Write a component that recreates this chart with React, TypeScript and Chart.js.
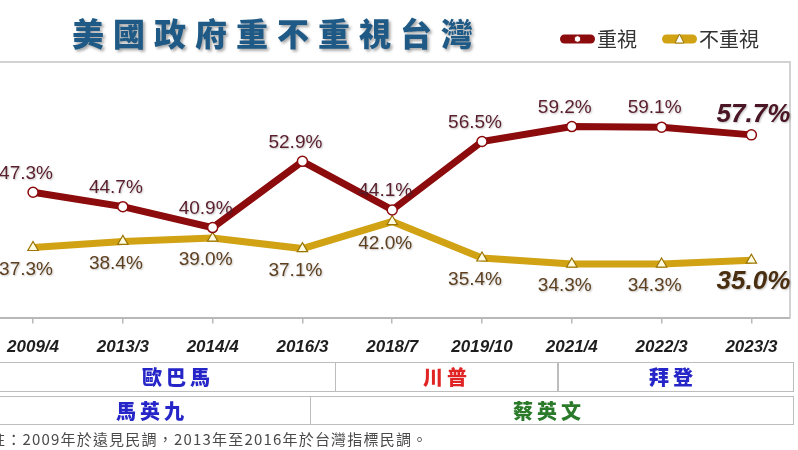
import React, { useEffect, useRef } from "react";
import { Chart, registerables } from "chart.js";

Chart.register(...registerables);

const periods = ["2009/4", "2013/3", "2014/4", "2016/3", "2018/7", "2019/10", "2021/4", "2022/3", "2023/3"];
const valuesCare = [47.3, 44.7, 40.9, 52.9, 44.1, 56.5, 59.2, 59.1, 57.7];
const valuesNotCare = [37.3, 38.4, 39.0, 37.1, 42.0, 35.4, 34.3, 34.3, 35.0];
const seriesNames = ["重視", "不重視"];
const titleText = "美國政府重不重視台灣";
const usPresidents = ["歐巴馬", "川普", "拜登"];
const twPresidents = ["馬英九", "蔡英文"];
const footnote = "註：2009年於遠見民調，2013年至2016年於台灣指標民調。";

const RED = "#8c0b0d";
const GOLD = "#d0a214";

const labelPlugin = {
  id: "valueLabels",
  afterDatasetsDraw(chart: any) {
    const ctx = chart.ctx;
    ctx.save();
    ctx.textAlign = "center";
    ctx.textBaseline = "middle";
    chart.data.datasets.forEach((ds: any, di: number) => {
      const meta = chart.getDatasetMeta(di);
      meta.data.forEach((pt: any, i: number) => {
        const last = i === meta.data.length - 1;
        const raw = ds.data[i];
        const num = typeof raw === "number" ? raw : raw.y;
        const v = Number(num).toFixed(1) + "%";
        const fam = '"Liberation Sans", Arial, sans-serif';
        if (last) {
          ctx.font = `italic bold 26px ${fam}`;
        } else {
          ctx.font = `19px ${fam}`;
        }
        const color = di === 0 ? (last ? "#4a1524" : "#5a1e2c") : (last ? "#4a2e10" : "#5e4020");
        const dy = di === 0 ? (last ? -20 : -19) : (last ? 22 : 22);
        const dx = last ? 2 : -7;
        ctx.shadowColor = "rgba(0,0,0,0.25)";
        ctx.shadowBlur = 2;
        ctx.shadowOffsetX = 1;
        ctx.shadowOffsetY = 1;
        ctx.fillStyle = color;
        ctx.fillText(v, pt.x + dx, pt.y + dy);
      });
    });
    ctx.restore();
  },
};

const framePlugin = {
  id: "frame",
  beforeDatasetsDraw(chart: any) {
    const { ctx, chartArea } = chart;
    ctx.save();
    ctx.strokeStyle = "#d2d2d2";
    ctx.lineWidth = 2;
    ctx.beginPath();
    ctx.moveTo(0, chartArea.top);
    ctx.lineTo(chartArea.right, chartArea.top);
    ctx.lineTo(chartArea.right, chartArea.bottom);
    ctx.stroke();
    ctx.restore();
  },
};

function LegendMark({ kind }: { kind: "circle" | "triangle" }) {
  const c = kind === "circle" ? RED : GOLD;
  return (
    <svg width="37" height="14" style={{ display: "block" }}>
      <rect x="1" y="2.5" width="35" height="9" rx="4.5" fill={c} />
      {kind === "circle" ? (
        <circle cx="18.5" cy="7" r="3.3" fill="#fff" stroke={c} strokeWidth="1" />
      ) : (
        <polygon points="18.5,2 23,11 14,11" fill="#fff" stroke="#9a7400" strokeWidth="1" />
      )}
    </svg>
  );
}

export default function App() {
  const ref = useRef<HTMLCanvasElement>(null);

  useEffect(() => {
    document.body.style.margin = "0";
    const chart = new Chart(ref.current as HTMLCanvasElement, {
      type: "line",
      data: {
        datasets: [
          {
            label: seriesNames[0],
            data: valuesCare.map((v, i) => ({ x: i, y: v })),
            borderColor: RED,
            borderWidth: 7,
            pointStyle: "circle",
            pointRadius: 5,
            pointBorderWidth: 1.5,
            pointBorderColor: RED,
            pointBackgroundColor: "#ffffff",
            tension: 0,
          },
          {
            label: seriesNames[1],
            data: valuesNotCare.map((v, i) => ({ x: i, y: v })),
            borderColor: GOLD,
            borderWidth: 7,
            pointStyle: "triangle",
            pointRadius: 6,
            pointBorderWidth: 1.2,
            pointBorderColor: "#9a7400",
            pointBackgroundColor: "#fffbe0",
            tension: 0,
          },
        ],
      },
      options: {
        animation: false,
        responsive: false,
        maintainAspectRatio: false,
        layout: { autoPadding: false, padding: { top: 62, left: 0, right: 8, bottom: 78 } },
        plugins: { legend: { display: false }, tooltip: { enabled: false } },
        scales: {
          x: {
            type: "linear",
            min: -0.368,
            max: 8.43,
            afterBuildTicks: (scale: any) => {
              scale.ticks = periods.map((_, i) => ({ value: i }));
            },
            afterFit: (scale: any) => {
              scale.paddingLeft = 0;
              scale.paddingRight = 0;
            },
            ticks: {
              autoSkip: false,
              maxRotation: 0,
              padding: 14,
              color: "#1e1e1e",
              font: { family: '"Liberation Sans", Arial, sans-serif', size: 17, style: "italic", weight: "bold" },
              callback: (v: any) => periods[Math.round(Number(v))] ?? "",
            },
            grid: { drawOnChartArea: false, drawTicks: true, tickLength: 6, color: "#b8b8b8", lineWidth: 1.5 },
            border: { color: "#b8b8b8", width: 2 },
          },
          y: { display: false, min: 24.6, max: 70.9 },
        },
      },
      plugins: [framePlugin, labelPlugin],
    } as any);
    return () => chart.destroy();
  }, []);

  const cjk = '"Noto Sans CJK TC", "Noto Sans CJK SC", sans-serif';
  const cell: React.CSSProperties = {
    position: "absolute",
    border: "1.5px solid #bdbdbd",
    boxSizing: "border-box",
  };
  const name = (text: string, cx: number, cy: number, color: string): React.ReactNode => (
    <div
      key={text}
      style={{
        position: "absolute",
        left: cx - 60,
        width: 120,
        top: cy - 14,
        height: 28,
        lineHeight: "28px",
        textAlign: "center",
        fontFamily: cjk,
        fontWeight: 900,
        fontSize: 20,
        letterSpacing: 4,
        color,
      }}
    >
      {text}
    </div>
  );

  return (
    <div style={{ position: "relative", width: 798, height: 450, overflow: "hidden", background: "#fff" }}>
      <canvas ref={ref} width={798} height={450} style={{ position: "absolute", left: 0, top: 0 }} />
      <div
        style={{
          position: "absolute",
          left: 72,
          top: 10,
          height: 44,
          lineHeight: "44px",
          fontFamily: cjk,
          fontWeight: 900,
          fontSize: 32,
          letterSpacing: 9,
          color: "#1f5a86",
          textShadow: "2px 2px 3px rgba(0,0,0,0.35)",
          whiteSpace: "nowrap",
        }}
      >
        {titleText}
      </div>
      <div style={{ position: "absolute", left: 559, top: 24, display: "flex", alignItems: "center", fontFamily: cjk, fontSize: 20, color: "#333", whiteSpace: "nowrap" }}>
        <LegendMark kind="circle" />
        <span style={{ marginLeft: 1, marginRight: 24 }}>{seriesNames[0]}</span>
        <LegendMark kind="triangle" />
        <span style={{ marginLeft: 1 }}>{seriesNames[1]}</span>
      </div>

      <div style={{ ...cell, left: -10, top: 362, width: 346, height: 30 }} />
      <div style={{ ...cell, left: 334.5, top: 362, width: 224, height: 30 }} />
      <div style={{ ...cell, left: 557, top: 362, width: 237, height: 30 }} />
      <div style={{ ...cell, left: -10, top: 396, width: 321, height: 29 }} />
      <div style={{ ...cell, left: 309.5, top: 396, width: 484.5, height: 29 }} />
      {name(usPresidents[0], 178, 377, "#2626c8")}
      {name(usPresidents[1], 447, 377, "#e02424")}
      {name(usPresidents[2], 673, 377, "#2626c8")}
      {name(twPresidents[0], 152, 410.5, "#2626c8")}
      {name(twPresidents[1], 549, 410.5, "#2a7a2a")}

      <div
        style={{
          position: "absolute",
          left: -10,
          top: 429,
          height: 20,
          lineHeight: "20px",
          fontFamily: cjk,
          fontSize: 15,
          letterSpacing: 1.2,
          color: "#4a4a4a",
          whiteSpace: "nowrap",
        }}
      >
        {footnote}
      </div>
    </div>
  );
}
